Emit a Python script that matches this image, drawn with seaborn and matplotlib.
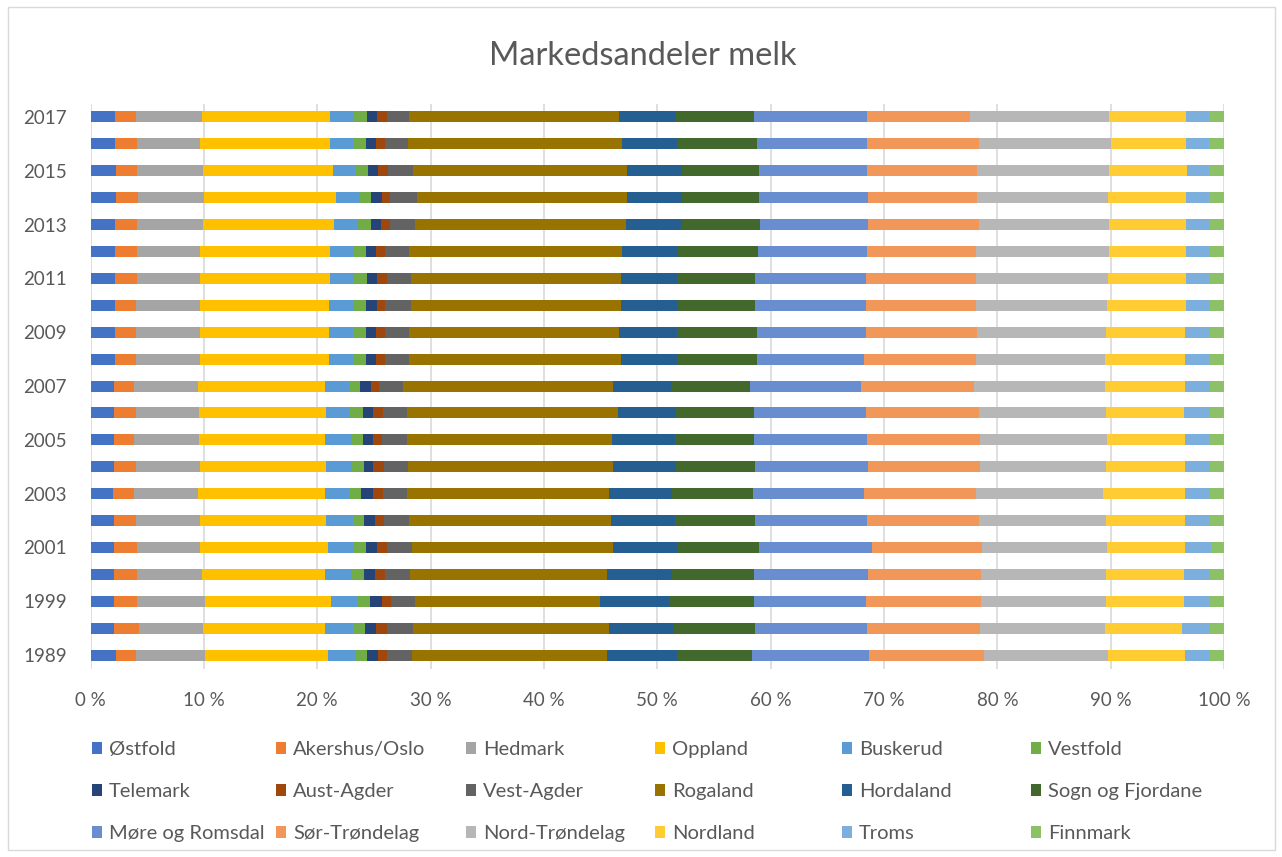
import numpy as np
import pandas as pd
import matplotlib
matplotlib.use("Agg")
import matplotlib.pyplot as plt
from matplotlib.patches import Patch, Rectangle
import seaborn as sns

years = ["1989", "1998", "1999", "2000", "2001", "2002", "2003", "2004", "2005", "2006", "2007",
         "2008", "2009", "2010", "2011", "2012", "2013", "2014", "2015", "2016", "2017"]

counties = ["Østfold", "Akershus/Oslo", "Hedmark", "Oppland", "Buskerud", "Vestfold",
            "Telemark", "Aust-Agder", "Vest-Agder", "Rogaland", "Hordaland", "Sogn og Fjordane",
            "Møre og Romsdal", "Sør-Trøndelag", "Nord-Trøndelag", "Nordland", "Troms", "Finnmark"]

ostfold = [2.28, 2.07, 2.07, 2.07, 2.07, 2.07, 1.96, 2.07, 2.07, 2.07, 2.07, 2.16, 2.16, 2.16, 2.16, 2.16, 2.16, 2.25, 2.25, 2.16, 2.16]
akershus = [1.71, 2.24, 2.03, 2.03, 2.03, 1.92, 1.91, 1.92, 1.80, 1.92, 1.80, 1.83, 1.83, 1.83, 1.94, 1.94, 1.94, 1.94, 1.85, 1.94, 1.83]
hedmark = [6.14, 5.62, 6.03, 5.71, 5.59, 5.70, 5.61, 5.70, 5.73, 5.61, 5.61, 5.70, 5.70, 5.70, 5.59, 5.59, 5.83, 5.82, 5.83, 5.59, 5.82]
oppland = [10.79, 10.79, 11.09, 10.91, 11.23, 11.12, 11.24, 11.12, 11.12, 11.21, 11.24, 11.35, 11.35, 11.35, 11.44, 11.44, 11.55, 11.65, 11.43, 11.44, 11.32]
buskerud = [2.44, 2.44, 2.35, 2.32, 2.33, 2.35, 2.20, 2.23, 2.32, 2.11, 2.11, 2.21, 2.12, 2.21, 2.12, 2.12, 2.09, 2.03, 2.00, 2.06, 2.12]
vestfold = [1.06, 1.06, 1.06, 1.06, 1.05, 0.94, 0.97, 1.06, 0.97, 1.09, 0.95, 1.05, 1.14, 1.05, 1.17, 1.05, 1.18, 1.06, 1.15, 1.11, 1.17]
telemark = [0.94, 0.94, 1.06, 0.97, 0.98, 0.97, 1.06, 0.85, 0.94, 0.94, 0.97, 0.86, 0.86, 0.98, 0.86, 0.86, 0.85, 0.97, 0.88, 0.86, 0.86]
aust_agder = [0.77, 0.97, 0.85, 0.94, 0.85, 0.82, 0.85, 0.94, 0.74, 0.85, 0.73, 0.85, 0.85, 0.73, 0.85, 0.85, 0.85, 0.73, 0.83, 0.85, 0.85]
vest_agder = [2.20, 2.32, 2.09, 2.21, 2.20, 2.24, 2.12, 2.12, 2.23, 2.12, 2.12, 2.12, 2.12, 2.24, 2.12, 2.12, 2.18, 2.33, 2.23, 2.00, 2.00]
rogaland = [17.27, 17.26, 16.32, 17.38, 17.80, 17.79, 17.79, 18.12, 18.09, 18.62, 18.53, 18.64, 18.53, 18.52, 18.52, 18.76, 18.58, 18.55, 18.88, 18.88, 18.53]
hordaland = [6.17, 5.74, 6.06, 5.73, 5.73, 5.62, 5.62, 5.52, 5.53, 5.11, 5.11, 5.09, 5.11, 5.00, 5.00, 4.97, 4.94, 4.82, 4.82, 4.88, 4.99]
sogn = [6.56, 7.20, 7.52, 7.20, 7.12, 7.11, 7.09, 7.00, 6.99, 6.88, 6.97, 6.91, 7.00, 6.88, 6.88, 7.00, 6.94, 6.83, 6.83, 7.00, 6.88]
more = [10.38, 9.85, 9.86, 10.06, 9.94, 9.85, 9.85, 9.94, 9.97, 9.86, 9.77, 9.50, 9.62, 9.74, 9.74, 9.64, 9.50, 9.61, 9.52, 9.73, 9.97]
sor_trondelag = [10.15, 9.94, 10.17, 9.97, 9.73, 9.86, 9.85, 9.85, 9.94, 9.97, 9.94, 9.85, 9.85, 9.73, 9.73, 9.62, 9.77, 9.65, 9.74, 9.86, 9.09]
nord_trondelag = [10.94, 11.03, 11.00, 11.00, 11.03, 11.20, 11.23, 11.12, 11.24, 11.20, 11.55, 11.35, 11.32, 11.56, 11.68, 11.76, 11.52, 11.56, 11.64, 11.64, 12.29]
nordland = [6.76, 6.85, 6.88, 6.88, 6.88, 7.00, 7.21, 7.00, 6.88, 6.88, 7.09, 7.09, 7.00, 6.97, 6.85, 6.77, 6.77, 6.85, 6.89, 6.65, 6.77]
troms = [2.21, 2.45, 2.33, 2.33, 2.32, 2.21, 2.21, 2.21, 2.21, 2.33, 2.21, 2.21, 2.21, 2.12, 2.12, 2.12, 2.12, 2.03, 1.91, 2.03, 2.03]
finnmark = [1.23, 1.23, 1.23, 1.23, 1.12, 1.23, 1.23, 1.23, 1.23, 1.23, 1.23, 1.23, 1.23, 1.23, 1.23, 1.23, 1.23, 1.32, 1.32, 1.32, 1.32]

colors = ["#4472C4", "#ED7D31", "#A5A5A5", "#FFC000", "#5B9BD5", "#70AD47",
          "#264478", "#9E480E", "#636363", "#997300", "#255E91", "#43682B",
          "#698ED0", "#F1975A", "#B7B7B7", "#FFCD33", "#7CAFDD", "#8CC168"]

series = [ostfold, akershus, hedmark, oppland, buskerud, vestfold, telemark, aust_agder,
          vest_agder, rogaland, hordaland, sogn, more, sor_trondelag, nord_trondelag,
          nordland, troms, finnmark]

sns.set_theme(style="white")
FONT = ["Lato", "DejaVu Sans"]
plt.rcParams["font.family"] = FONT
TXT = "#595959"

vals = np.array(series, dtype=float)            # shape (18, 21)
pct = vals / vals.sum(axis=0) * 100.0           # 100 % stacked
cum = np.cumsum(pct, axis=0)

fig = plt.figure(figsize=(12.82, 8.57), dpi=100)
ax = fig.add_axes([0.0706, 0.2199, 0.8842, 0.6593])

order = years[::-1]  # top row is 2017
for i in reversed(range(len(counties))):
    df = pd.DataFrame({"year": years, "cum": cum[i]})
    sns.barplot(data=df, x="cum", y="year", order=order, orient="h",
                color=colors[i], saturation=1, width=0.41, linewidth=0,
                errorbar=None, ax=ax, zorder=3)

ax.set_xlim(0, 100)
ticks = list(range(0, 101, 10))
ax.set_xticks(ticks)
ax.set_xticklabels([f"{t} %" for t in ticks], color=TXT, fontsize=13.5)
ylabels = [y if (years.index(y) % 2 == 0) else "" for y in order]
ax.set_yticklabels(ylabels, color=TXT, fontsize=13.5)
ax.tick_params(axis="both", length=0)
ax.tick_params(axis="x", pad=17)
ax.tick_params(axis="y", pad=17)
ax.set_xlabel("")
ax.set_ylabel("")
for s in ax.spines.values():
    s.set_visible(False)
ax.grid(axis="x", color="#D9D9D9", linewidth=1.2, zorder=0)
ax.grid(axis="y", visible=False)
ax.set_axisbelow(True)

fig.text(0.5015, 0.9345, "Markedsandeler melk", ha="center", va="center",
         fontsize=23.5, color=TXT)

# legend: 3 rows x 6 columns, equal-width columns like Excel
col_x = [92, 276, 466, 655, 842, 1031]
for j in range(6):
    handles = [Patch(facecolor=colors[j + 6 * r], edgecolor="none") for r in range(3)]
    labels = [counties[j + 6 * r] for r in range(3)]
    fig.legend(handles, labels, loc="upper left",
               bbox_to_anchor=(col_x[j] / 1282, 1 - 741 / 857),
               frameon=False, borderpad=0, borderaxespad=0,
               handlelength=0.52, handleheight=0.52, handletextpad=0.33,
               labelspacing=1.25, fontsize=14.5, labelcolor=TXT)

fig.patches.append(Rectangle((8 / 1282, 7 / 857), 1267 / 1282, 843 / 857,
                             transform=fig.transFigure, fill=False,
                             edgecolor="#D9D9D9", linewidth=1))

fig.savefig("out.png", dpi=100)
